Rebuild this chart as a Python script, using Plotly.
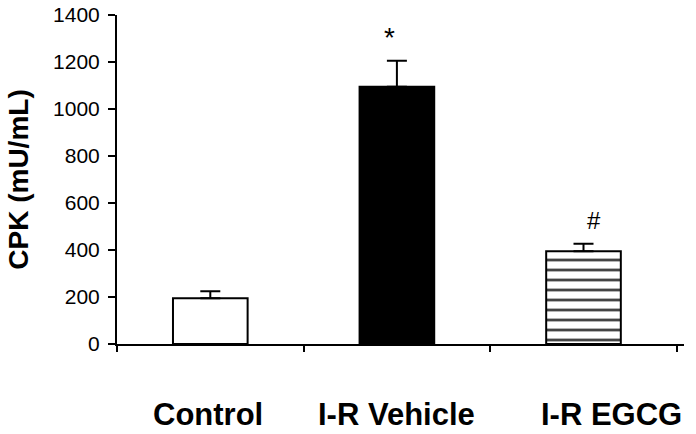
import plotly.graph_objects as go

# data
groups = ["Control", "I-R Vehicle", "I-R EGCG"]
cpk = [195, 1095, 395]
sem = [30, 110, 32]
marks = ["", "*", "#"]
label_shift = [-2, 0, 28]

fig = go.Figure()

fig.add_trace(go.Bar(
    x=groups, y=cpk,
    width=0.40,
    marker=dict(
        color=["white", "black", "white"],
        line=dict(color="black", width=2),
        pattern=dict(shape=["", "", "-"], fgcolor="black", bgcolor="white", fgopacity=1,
                     size=10, solidity=0.28, fillmode="overlay"),
    ),
    error_y=dict(type="data", array=sem, arrayminus=[0, 0, 0], symmetric=False,
                 color="black", thickness=2, width=10),
))

# significance marks above the bars
for g, v, e, m in zip(groups, cpk, sem, marks):
    if m:
        fig.add_annotation(x=g, y=v + e, text=m, showarrow=False, yanchor="bottom",
                           yshift=6 if m == "*" else 8, xshift=-7 if m == "*" else 10,
                           font=dict(size=28 if m == "*" else 24, color="black",
                                     family="Liberation Sans"))

# category labels well below the axis
for g, s in zip(groups, label_shift):
    fig.add_annotation(x=g, y=0, yref="y", text="<b>%s</b>" % g, showarrow=False,
                       yanchor="middle", yshift=-70, xshift=s,
                       font=dict(size=31, color="black", family="Liberation Sans"))

fig.update_layout(
    width=696, height=434,
    margin=dict(l=117, r=12, t=15, b=90),
    plot_bgcolor="white", paper_bgcolor="white",
    showlegend=False,
    font=dict(family="Liberation Sans", color="black"),
    bargap=0.6,
)
fig.update_xaxes(
    showline=True, linecolor="black", linewidth=2,
    ticks="outside", tickson="boundaries", ticklen=6, tickwidth=2, tickcolor="black",
    showticklabels=False, showgrid=False, zeroline=False, automargin=False,
)
fig.update_yaxes(
    range=[0, 1400], dtick=200,
    showline=True, linecolor="black", linewidth=2,
    ticks="outside", ticklen=7, tickwidth=2, tickcolor="black", ticklabelstandoff=4,
    tickfont=dict(size=21, color="black"),
    showgrid=False, zeroline=False, automargin=False,
    title=dict(text="<b>CPK (mU/mL)</b>", font=dict(size=28, color="black"), standoff=16),
)

# drop the page's default body margin so the figure sits at the window origin
fig.write_html("out.html", config={"displayModeBar": False},
               post_script="document.body.style.margin='0';")
